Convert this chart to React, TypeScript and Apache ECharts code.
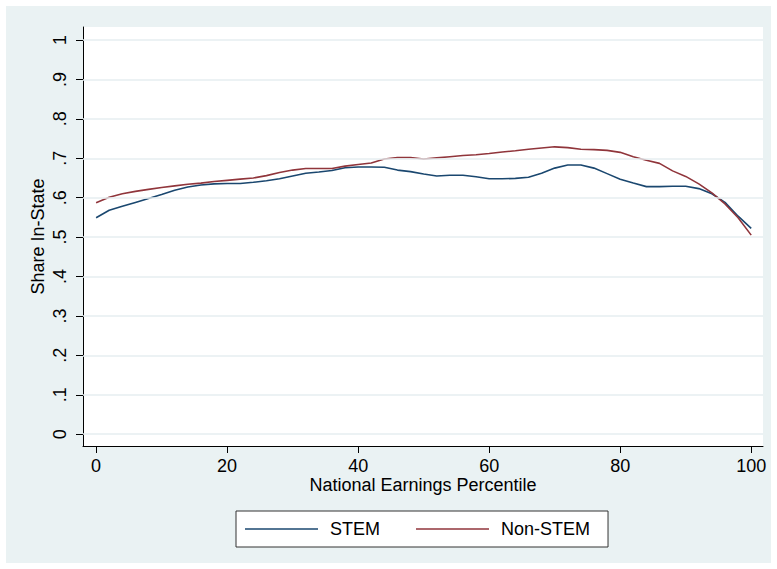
import React, { useEffect, useRef } from "react";
import * as echarts from "echarts";

const percentiles = [0, 2, 4, 6, 8, 10, 12, 14, 16, 18, 20, 22, 24, 26, 28, 30, 32, 34, 36, 38, 40, 42, 44, 46, 48, 50, 52, 54, 56, 58, 60, 62, 64, 66, 68, 70, 72, 74, 76, 78, 80, 82, 84, 86, 88, 90, 92, 94, 96, 98, 100];

const stem = [0.549, 0.568, 0.578, 0.588, 0.598, 0.608, 0.619, 0.627, 0.632, 0.635, 0.636, 0.636, 0.639, 0.643, 0.648, 0.655, 0.662, 0.665, 0.669, 0.676, 0.678, 0.678, 0.677, 0.670, 0.666, 0.660, 0.655, 0.657, 0.657, 0.653, 0.648, 0.648, 0.649, 0.652, 0.662, 0.675, 0.683, 0.683, 0.675, 0.661, 0.647, 0.637, 0.628, 0.628, 0.629, 0.629, 0.623, 0.610, 0.588, 0.553, 0.522];

const nonStem = [0.587, 0.601, 0.610, 0.616, 0.621, 0.626, 0.630, 0.634, 0.637, 0.641, 0.644, 0.647, 0.650, 0.656, 0.664, 0.670, 0.674, 0.674, 0.674, 0.680, 0.684, 0.688, 0.698, 0.702, 0.702, 0.698, 0.701, 0.704, 0.707, 0.709, 0.712, 0.716, 0.719, 0.723, 0.726, 0.729, 0.727, 0.723, 0.722, 0.720, 0.715, 0.704, 0.695, 0.687, 0.668, 0.654, 0.635, 0.612, 0.584, 0.549, 0.505];

const xTicks = [0, 20, 40, 60, 80, 100];
const yTicks = [0, 0.1, 0.2, 0.3, 0.4, 0.5, 0.6, 0.7, 0.8, 0.9, 1];

const FONT = "'Liberation Sans', Arial, Helvetica, sans-serif";

export default function App() {
  const ref = useRef<HTMLDivElement>(null);
  useEffect(() => {
    if (!ref.current) return;
    const chart = echarts.init(ref.current, undefined, { renderer: "svg" });
    const option: any = {
      animation: false,
      backgroundColor: "transparent",
      textStyle: { fontFamily: FONT },
      grid: {
        left: 83,
        right: 14,
        top: 27,
        bottom: 123,
        show: true,
        backgroundColor: "#ffffff",
        borderWidth: 0,
      },
      legend: {
        data: ["STEM", "Non-STEM"],
        left: 236,
        top: 511,
        orient: "horizontal",
        icon: "rect",
        borderColor: "#333333",
        borderWidth: 1,
        borderRadius: 0,
        backgroundColor: "#ffffff",
        padding: [8, 18, 8, 9],
        itemWidth: 73,
        itemHeight: 1.6,
        itemGap: 36,
        textStyle: { fontSize: 18, lineHeight: 20, color: "#000", fontFamily: FONT, padding: [0, 0, 0, 7] },
      },
      xAxis: {
        type: "value",
        min: -2,
        max: 101.8,
        name: "National Earnings Percentile",
        nameLocation: "middle",
        nameGap: 30,
        nameMoveOverlap: false,
        nameTextStyle: { fontSize: 18, lineHeight: 18, color: "#000", fontFamily: FONT },
        axisLine: { show: true, onZero: false, lineStyle: { color: "#000", width: 1 } },
        axisTick: { show: true, length: 7, customValues: xTicks, lineStyle: { color: "#000" } },
        axisLabel: { customValues: xTicks, margin: 11, fontSize: 18, lineHeight: 18, color: "#000", fontFamily: FONT },
        splitLine: { show: false },
      },
      yAxis: {
        type: "value",
        min: -0.03,
        max: 1.033,
        name: "Share In-State",
        nameLocation: "middle",
        nameGap: 36,
        nameRotate: 90,
        nameMoveOverlap: false,
        nameTextStyle: { fontSize: 18, color: "#000", fontFamily: FONT },
        axisLine: { show: true, onZero: false, lineStyle: { color: "#000", width: 1 } },
        axisTick: { show: true, length: 7, customValues: yTicks, lineStyle: { color: "#000" } },
        axisLabel: {
          customValues: yTicks,
          rotate: 90,
          margin: 14,
          fontSize: 18,
          color: "#000",
          fontFamily: FONT,
          formatter: (v: number) => String(Math.round(v * 10) / 10).replace(/^0\./, "."),
        },
        splitLine: { show: false },
      },
      series: [
        {
          name: "grid",
          type: "line",
          data: [],
          z: 1,
          silent: true,
          markLine: {
            silent: true,
            symbol: "none",
            label: { show: false },
            lineStyle: { color: "#e6eef0", type: "solid", width: 1.5 },
            data: yTicks.map((v) => ({ yAxis: v })),
          },
        },
        {
          name: "STEM",
          type: "line",
          z: 3,
          symbol: "none",
          lineStyle: { color: "#1a476f", width: 1.6 },
          itemStyle: { color: "#1a476f" },
          data: percentiles.map((p, i) => [p, stem[i]]),
        },
        {
          name: "Non-STEM",
          type: "line",
          z: 3,
          symbol: "none",
          lineStyle: { color: "#90353b", width: 1.6 },
          itemStyle: { color: "#90353b" },
          data: percentiles.map((p, i) => [p, nonStem[i]]),
        },
      ],
    };
    chart.setOption(option);
    return () => chart.dispose();
  }, []);
  return (
    <div style={{ position: "fixed", left: 0, top: 0, width: 777, height: 569, background: "#ffffff" }}>
      <div style={{ position: "absolute", left: 6, top: 6, width: 765, height: 557, background: "#eaf2f3" }} />
      <div ref={ref} style={{ position: "absolute", left: 0, top: 0, width: 777, height: 569 }} />
    </div>
  );
}
